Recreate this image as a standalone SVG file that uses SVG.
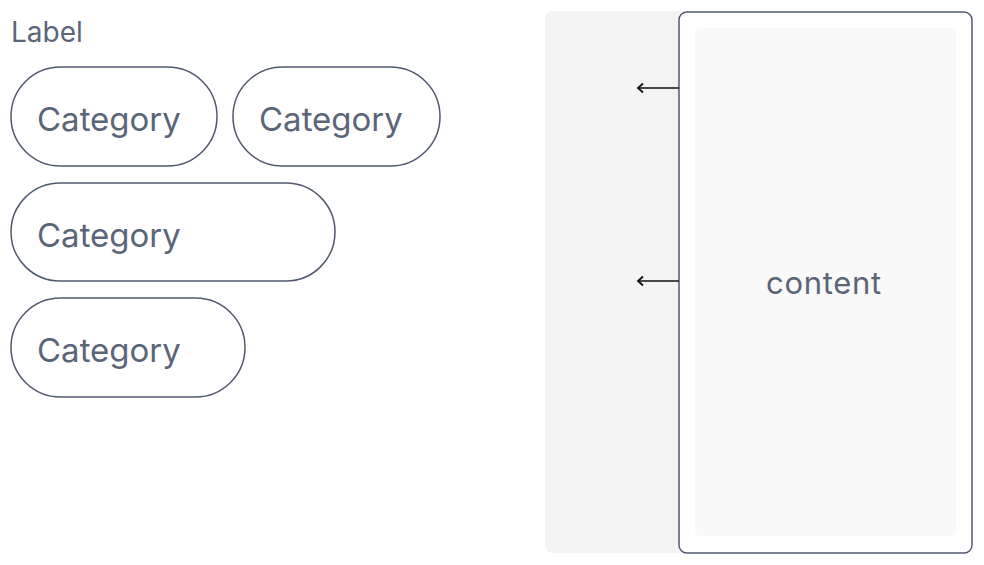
<svg xmlns="http://www.w3.org/2000/svg" width="984" height="565" viewBox="0 0 984 565">
<style>
.pill{fill:#ffffff;stroke:#4f5a6e;stroke-width:1.5}
.cat{font-family:Inter,"Noto Sans",sans-serif;font-size:33px;fill:#5b6578}
.lbl{font-family:Inter,"Noto Sans",sans-serif;font-size:28px;fill:#5b6578}
.edge{stroke:#111111;stroke-width:1.6;fill:none}
</style>
<defs>
<marker id="ah" viewBox="0 0 12 12" refX="8" refY="6" markerWidth="12" markerHeight="12" markerUnits="userSpaceOnUse" orient="auto">
<path d="M3,1.5 L8,6 L3,10.5" fill="none" stroke="#111111" stroke-width="1.8"/>
</marker>
</defs>
<rect width="984" height="565" fill="#ffffff"/>
<g id="label"><text class="lbl" x="11" y="42">Label</text></g>
<g id="cat1"><rect class="pill" x="11" y="67" width="206" height="99" rx="49.5"/><text class="cat" x="37" y="131">Category</text></g>
<g id="cat2"><rect class="pill" x="233" y="67" width="207" height="99" rx="49.5"/><text class="cat" x="259" y="131">Category</text></g>
<g id="cat3"><rect class="pill" x="11" y="183" width="324" height="98" rx="49"/><text class="cat" x="37" y="247">Category</text></g>
<g id="cat4"><rect class="pill" x="11" y="298" width="234" height="99" rx="49.5"/><text class="cat" x="37" y="362">Category</text></g>
<g id="panel"><rect x="545" y="11" width="300" height="542" rx="8" fill="#f3f3f4"/></g>
<g id="container"><rect x="679" y="12" width="293" height="541" rx="8" fill="#ffffff" stroke="#4f5a6e" stroke-width="1.5"/>
<rect x="695" y="28" width="261" height="508" rx="6" fill="#f9f9f9"/>
<text x="824" y="294" text-anchor="middle" font-family="Inter,'Noto Sans',sans-serif" font-size="31" letter-spacing="0.7" fill="#5b6578">content</text></g>
<g id="connectors">
<line class="edge" x1="679" y1="88" x2="638" y2="88" marker-end="url(#ah)"/>
<line class="edge" x1="679" y1="281" x2="638" y2="281" marker-end="url(#ah)"/>
</g>
</svg>
